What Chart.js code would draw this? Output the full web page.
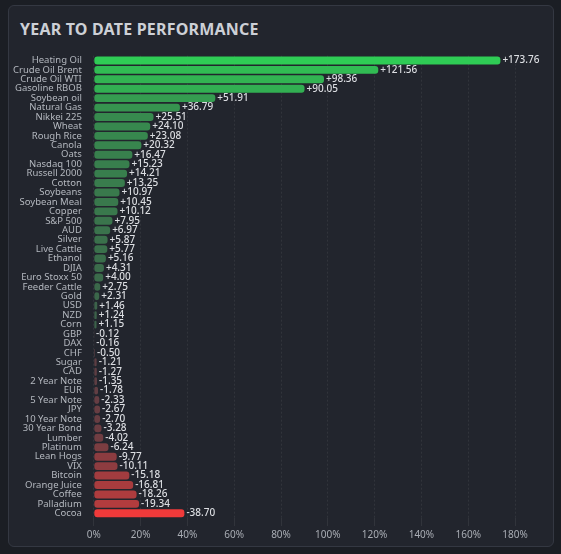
<!DOCTYPE html>
<html>
<head>
<meta charset="utf-8">
<script src="https://cdn.jsdelivr.net/npm/chart.js@4"></script>
<style>
  html, body { margin: 0; background: #1b1e24; }
  .panel {
    position: absolute; left: 8px; top: 5px; width: 546px; height: 542px;
    background: #22252d; border: 1px solid #343842; border-radius: 6px; box-sizing: border-box;
  }
  h1 {
    position: absolute; left: 11px; top: 12px; margin: 0;
    font: bold 16px "Noto Sans", sans-serif; color: #cdd0d6; letter-spacing: 0.2px;
  }
  .wrap { position: absolute; left: 0; top: 40px; width: 540px; height: 498px; }
</style>
</head>
<body>
<div class="panel">
  <h1>YEAR TO DATE PERFORMANCE</h1>
  <div class="wrap"><canvas id="chart"></canvas></div>
</div>
<script>
const labels = ['Heating Oil', 'Crude Oil Brent', 'Crude Oil WTI', 'Gasoline RBOB', 'Soybean oil', 'Natural Gas',
  'Nikkei 225', 'Wheat', 'Rough Rice', 'Canola', 'Oats', 'Nasdaq 100', 'Russell 2000', 'Cotton', 'Soybeans',
  'Soybean Meal', 'Copper', 'S&P 500', 'AUD', 'Silver', 'Live Cattle', 'Ethanol', 'DJIA', 'Euro Stoxx 50',
  'Feeder Cattle', 'Gold', 'USD', 'NZD', 'Corn', 'GBP', 'DAX', 'CHF', 'Sugar', 'CAD', '2 Year Note', 'EUR',
  '5 Year Note', 'JPY', '10 Year Note', '30 Year Bond', 'Lumber', 'Platinum', 'Lean Hogs', 'VIX', 'Bitcoin',
  'Orange Juice', 'Coffee', 'Palladium', 'Cocoa'];
const changes = [173.76, 121.56, 98.36, 90.05, 51.91, 36.79, 25.51, 24.10, 23.08, 20.32, 16.47, 15.23, 14.21,
  13.25, 10.97, 10.45, 10.12, 7.95, 6.97, 5.87, 5.77, 5.16, 4.31, 4.00, 2.75, 2.31, 1.46, 1.24, 1.15, -0.12,
  -0.16, -0.50, -1.21, -1.27, -1.35, -1.78, -2.33, -2.67, -2.70, -3.28, -4.02, -6.24, -9.77, -10.11, -15.18,
  -16.81, -18.26, -19.34, -38.70];

const maxPos = Math.max(...changes);
const maxNeg = Math.max(...changes.map(v => -v));

function mix(a, b, t) {
  const r = a.map((c, i) => Math.round(c + (b[i] - c) * t));
  return `rgb(${r[0]},${r[1]},${r[2]})`;
}
const colors = changes.map(v => {
  if (v >= 0) return mix([62, 80, 72], [47, 204, 85], Math.pow(v / maxPos, 0.4));
  return mix([78, 62, 68], [240, 58, 58], Math.pow(-v / maxNeg, 0.7));
});

const valueLabels = {
  id: 'valueLabels',
  afterDatasetsDraw(chart) {
    const ctx = chart.ctx;
    ctx.save();
    ctx.font = '500 10px "Noto Sans", sans-serif';
    ctx.fillStyle = '#dcdee2';
    ctx.textBaseline = 'middle';
    chart.getDatasetMeta(0).data.forEach((bar, i) => {
      const v = changes[i];
      ctx.fillText((v >= 0 ? '+' : '') + v.toFixed(2), bar.x + 2, bar.y);
    });
    ctx.restore();
  }
};

new Chart(document.getElementById('chart'), {
  type: 'bar',
  data: {
    labels,
    datasets: [{
      data: changes.map(v => Math.abs(v)),
      backgroundColor: colors,
      borderRadius: 3,
      borderSkipped: false,
      categoryPercentage: 1,
      barPercentage: 0.84
    }]
  },
  options: {
    indexAxis: 'y',
    responsive: true,
    maintainAspectRatio: false,
    animation: false,
    layout: { padding: { right: 34 } },
    plugins: { legend: { display: false }, tooltip: { enabled: false } },
    scales: {
      x: {
        min: 0, max: 180,
        ticks: { stepSize: 20, color: '#a9adb4', font: { size: 10, family: 'Noto Sans' }, callback: v => v + '%' },
        grid: { color: 'rgba(255,255,255,0.07)' },
        border: { display: false, dash: [2, 2] }
      },
      y: {
        ticks: { color: '#b4b8bf', font: { size: 9.5, family: 'Noto Sans' }, autoSkip: false, padding: 4 },
        grid: { display: false },
        border: { display: false }
      }
    }
  },
  plugins: [valueLabels]
});
</script>
</body>
</html>
